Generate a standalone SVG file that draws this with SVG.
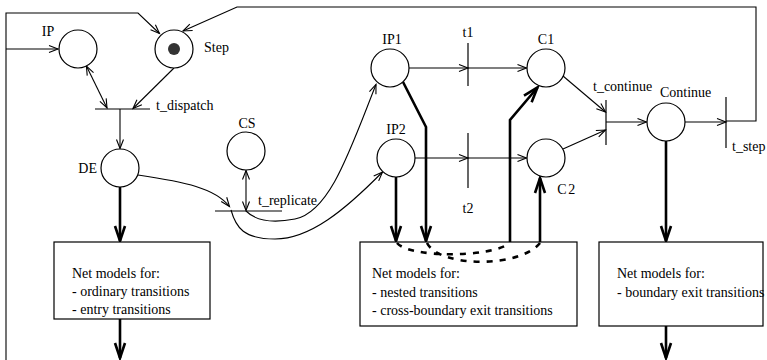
<svg xmlns="http://www.w3.org/2000/svg" width="767" height="360" viewBox="0 0 767 360">
<style>
text{font-family:"Liberation Serif","Times New Roman",serif;font-size:14px;fill:#000}
.p{fill:#fff;stroke:#000;stroke-width:1.2}
.bar{stroke:#000;stroke-width:1.2}
.c{fill:none;stroke:#000;stroke-width:1.1}
.a{marker-end:url(#ah)}
.aa{marker-start:url(#ah);marker-end:url(#ah)}
.k{fill:none;stroke:#000;stroke-width:2.6;marker-end:url(#th)}
.kn{fill:none;stroke:#000;stroke-width:2.6}
.d{fill:none;stroke:#000;stroke-width:2.6;stroke-dasharray:6 7}
.box{fill:#fff;stroke:#000;stroke-width:1.2}
</style>
<defs>
<marker id="ah" markerUnits="userSpaceOnUse" orient="auto-start-reverse" markerWidth="1" markerHeight="1" overflow="visible">
<path d="M-9,-3.5 L0,0 L-9,3.5" fill="none" stroke="#000" stroke-width="1.1"/>
</marker>
<marker id="th" markerUnits="userSpaceOnUse" orient="auto" markerWidth="1" markerHeight="1" overflow="visible">
<path d="M-15,-5 L0,0 L-15,5" fill="none" stroke="#000" stroke-width="2.6"/>
</marker>
</defs>

<g id="connectors">
<path class="c a" d="M6,360 V13 H138 L159.5,33.5"/>
<path class="c a" d="M6,49 H58"/>
<path class="c a" d="M726,121 H756 V7 H237 L183,31"/>
<path class="c aa" d="M86.4,66 L107,108"/>
<path class="c a" d="M174,68 L133,108.5"/>
<path class="c a" d="M120,109 V148.5"/>
<path class="c a" d="M138,175 C185,182 215,188 229.5,206.5"/>
<path class="c a" d="M231,210 C236,228 244,239 275,239 C310,239 345,210 382.5,172"/>
<path class="c a" d="M246,211 C255,220 270,224 295,219 C330,212 350,150 376,84.5"/>
<path class="c aa" d="M246,170.5 V210.5"/>
<path class="c a" d="M409,68 H468"/>
<path class="c a" d="M468,68 H526.5"/>
<path class="c a" d="M415,158 H468"/>
<path class="c a" d="M468,158 H526.5"/>
<path class="c a" d="M563,76 L605.5,112"/>
<path class="c a" d="M563,149 L605.5,130"/>
<path class="c a" d="M606,122 H646.5"/>
<path class="c a" d="M685,122 H726"/>
<path class="k" d="M120,187 V241"/>
<path class="k" d="M120,319 V358"/>
<path class="k" d="M396,177 V241"/>
<path class="k" d="M402,80 L426,127 V241"/>
<path class="k" d="M510,242 V120 L537.5,87.5"/>
<path class="k" d="M540,242 V178"/>
<path class="k" d="M666,141 V241"/>
<path class="k" d="M666,326 V358"/>
</g>

<g id="IP"><circle class="p" cx="78" cy="49" r="19"/><text x="48" y="36" text-anchor="middle">IP</text></g>
<g id="Step"><circle class="p" cx="174" cy="49" r="19"/><circle cx="174" cy="49" r="6" fill="#333"/><text x="204" y="52">Step</text></g>
<g id="t_dispatch"><line class="bar" x1="95" y1="109" x2="150" y2="109"/><text x="156" y="110">t_dispatch</text></g>
<g id="DE"><circle class="p" cx="120" cy="168" r="19"/><text x="97" y="173" text-anchor="end">DE</text></g>
<g id="CS"><circle class="p" cx="246" cy="151" r="19"/><text x="247" y="128" text-anchor="middle">CS</text></g>
<g id="t_replicate"><line class="bar" x1="215" y1="211" x2="282" y2="211"/><text x="258" y="205">t_replicate</text></g>
<g id="IP1"><circle class="p" cx="390" cy="68" r="19"/><text x="392" y="44" text-anchor="middle">IP1</text></g>
<g id="IP2"><circle class="p" cx="396" cy="158" r="19"/><text x="396" y="134" text-anchor="middle">IP2</text></g>
<g id="t1"><line class="bar" x1="468" y1="43" x2="468" y2="86"/><text x="468" y="37" text-anchor="middle">t1</text></g>
<g id="t2"><line class="bar" x1="468" y1="133" x2="468" y2="188"/><text x="468" y="213" text-anchor="middle">t2</text></g>
<g id="C1"><circle class="p" cx="546" cy="68" r="19"/><text x="546" y="44" text-anchor="middle">C1</text></g>
<g id="C2"><circle class="p" cx="546" cy="158" r="19"/><text x="567" y="194" text-anchor="middle" letter-spacing="1.5">C2</text></g>
<g id="t_continue"><line class="bar" x1="606" y1="100" x2="606" y2="145"/><text x="593" y="91">t_continue</text></g>
<g id="Continue"><circle class="p" cx="666" cy="122" r="19"/><text x="660" y="97">Continue</text></g>
<g id="t_step"><line class="bar" x1="726" y1="97" x2="726" y2="148"/><text x="732" y="151">t_step</text></g>

<g id="box1"><rect class="box" x="54" y="242" width="156" height="77"/>
<text x="72" y="278">Net models for:</text><text x="72" y="296">- ordinary transitions</text><text x="72" y="314">- entry transitions</text></g>
<g id="box2"><rect class="box" x="360" y="242" width="217" height="84"/>
<path class="d" d="M397,243 C410,258 490,258 510,243"/>
<path class="d" d="M427,243 C440,268 520,268 540,243"/>
<text x="372" y="278">Net models for:</text><text x="372" y="296.5">- nested transitions</text><text x="372" y="315">- cross-boundary exit transitions</text></g>
<g id="box3"><rect class="box" x="599" y="242" width="164" height="84"/>
<text x="617" y="278">Net models for:</text><text x="617" y="296.5">- boundary exit transitions</text></g>
</svg>
